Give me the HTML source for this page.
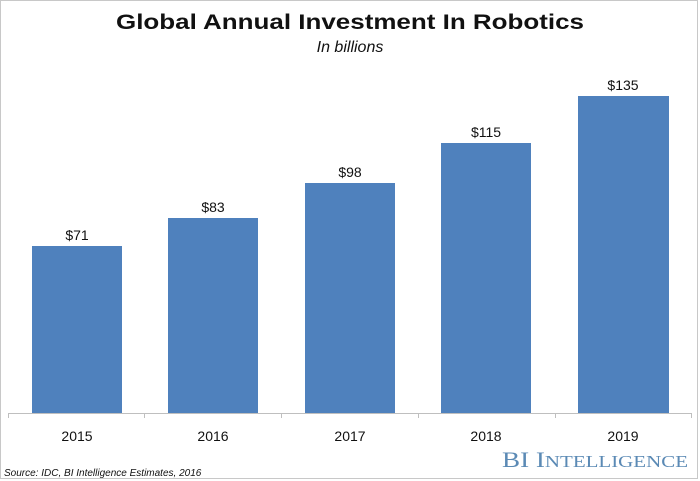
<!DOCTYPE html>
<html><head><meta charset="utf-8"><style>
html,body{margin:0;padding:0;background:#fff;}
svg{display:block;}
</style></head><body>
<svg width="700" height="481" viewBox="0 0 700 481" xmlns="http://www.w3.org/2000/svg">
<rect x="0.5" y="0.5" width="697" height="478" fill="#fff" stroke="#c8c8c8"/>
<text x="350" y="29" text-anchor="middle" font-family="Liberation Sans, sans-serif" font-weight="bold" font-size="21" textLength="468" lengthAdjust="spacingAndGlyphs" fill="#111">Global Annual Investment In Robotics</text>
<text x="350" y="52" text-anchor="middle" font-family="Liberation Sans, sans-serif" font-style="italic" font-size="16" fill="#111">In billions</text>
<g fill="#4f81bd">
<rect x="32" y="246" width="90" height="167"/>
<rect x="168" y="218" width="90" height="195"/>
<rect x="305" y="183" width="90" height="230"/>
<rect x="441" y="143" width="90" height="270"/>
<rect x="578" y="96" width="91" height="317"/>
</g>
<line x1="8" y1="413.5" x2="692" y2="413.5" stroke="#bfbfbf"/>
<g stroke="#bfbfbf">
<line x1="8.5" y1="413" x2="8.5" y2="418"/>
<line x1="144.5" y1="413" x2="144.5" y2="418"/>
<line x1="281.5" y1="413" x2="281.5" y2="418"/>
<line x1="418.5" y1="413" x2="418.5" y2="418"/>
<line x1="555.5" y1="413" x2="555.5" y2="418"/>
<line x1="691.5" y1="413" x2="691.5" y2="418"/>
</g>
<g font-family="Liberation Sans, sans-serif" font-size="14" fill="#111" text-anchor="middle">
<text x="77" y="240">$71</text>
<text x="213" y="212">$83</text>
<text x="350" y="177">$98</text>
<text x="486" y="137">$115</text>
<text x="623" y="90">$135</text>
<text x="77" y="441">2015</text>
<text x="213" y="441">2016</text>
<text x="350" y="441">2017</text>
<text x="486" y="441">2018</text>
<text x="623" y="441">2019</text>
</g>
<text x="4" y="476" font-family="Liberation Sans, sans-serif" font-style="italic" font-size="10" fill="#111">Source: IDC, BI Intelligence Estimates, 2016</text>
<text x="688" y="467" text-anchor="end" font-family="Liberation Serif, serif" fill="#5b8ab5" textLength="186" lengthAdjust="spacingAndGlyphs"><tspan font-size="22">BI I</tspan><tspan font-size="17">NTELLIGENCE</tspan></text>
</svg>
</body></html>
